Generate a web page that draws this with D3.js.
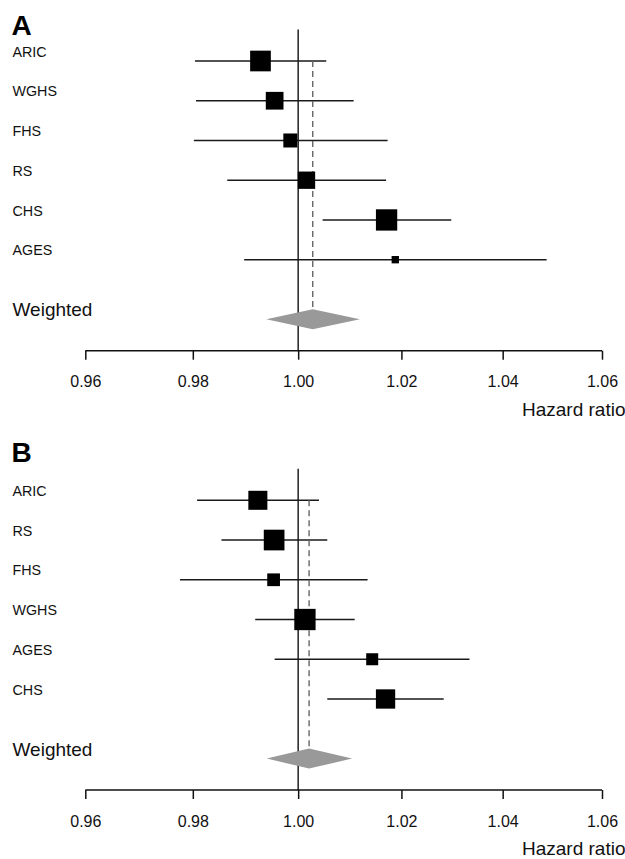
<!DOCTYPE html>
<html>
<head>
<meta charset="utf-8">
<script src="https://cdn.jsdelivr.net/npm/d3@7"></script>
<style>
  html, body { margin: 0; padding: 0; background: #fff; }
  svg { display: block; font-family: "Liberation Sans", Arial, Helvetica, sans-serif; }
</style>
</head>
<body>
<script>
// ---------- data ----------
const tickValues = [0.96, 0.98, 1.00, 1.02, 1.04, 1.06];
const axisTitle = "Hazard ratio";
const pooledLabel = "Weighted";

const panelLetters = ["A", "B"];

const studiesA = ["ARIC", "WGHS", "FHS", "RS", "CHS", "AGES"];
const hrA      = [0.9928, 0.9955, 0.9985, 1.0016, 1.0171, 1.0188];
const loA      = [0.9804, 0.9806, 0.9802, 0.9865, 1.0047, 0.9897];
const hiA      = [1.0054, 1.0107, 1.0173, 1.0170, 1.0298, 1.0488];
const weightA  = [21.4, 15.7, 9.8, 15.0, 22.7, 2.7];
const pooledA  = [1.0028, 0.9939, 1.0119]; // estimate, lower, upper

const studiesB = ["ARIC", "RS", "FHS", "WGHS", "AGES", "CHS"];
const hrB      = [0.9923, 0.9954, 0.9953, 1.0013, 1.0143, 1.0169];
const loB      = [0.9808, 0.9854, 0.9776, 0.9918, 0.9955, 1.0056];
const hiB      = [1.0040, 1.0056, 1.0134, 1.0109, 1.0334, 1.0283];
const weightB  = [18.1, 21.4, 8.1, 22.7, 7.2, 18.6];
const pooledB  = [1.0021, 0.9940, 1.0104];

// ---------- layout ----------
const W = 625, H = 859;
const svg = d3.select("body").append("svg").attr("width", W).attr("height", H);

const x = d3.scaleLog().domain([0.96, 1.06]).range([85.3, 602]);
const y = d3.scaleLinear().domain([0, 6.5]).range([61, 319.3]); // row index -> y (panel coords)
const boxSize = d3.scaleSqrt().domain([0, 25]).range([0, 22.36]);

const panels = [
  { letter: panelLetters[0], offset: 0,     letterY: 35,   studies: studiesA, hr: hrA, lo: loA, hi: hiA, w: weightA, pooled: pooledA },
  { letter: panelLetters[1], offset: 439.3, letterY: 22.4, studies: studiesB, hr: hrB, lo: loB, hi: hiB, w: weightB, pooled: pooledB }
];

const axisY = 350.7;
const refTop = 29.5;

panels.forEach(p => {
  const g = svg.append("g").attr("transform", `translate(0,${p.offset})`);

  g.append("text")
    .attr("x", 11.5).attr("y", p.letterY)
    .attr("font-size", 28).attr("font-weight", "bold").attr("fill", "#000")
    .text(p.letter);

  const rows = p.studies.map((s, i) => ({ s, hr: p.hr[i], lo: p.lo[i], hi: p.hi[i], w: p.w[i], i }));

  g.selectAll("text.lab").data(rows).join("text")
    .attr("class", "lab")
    .attr("x", 12.5).attr("y", d => y(d.i) - 4.3)
    .attr("font-size", 14.3).attr("fill", "#111")
    .text(d => d.s);

  const pooledRow = 6.5;
  g.append("text")
    .attr("x", 12.5).attr("y", y(pooledRow) - 3)
    .attr("font-size", 19).attr("fill", "#111")
    .text(pooledLabel);

  g.append("line")
    .attr("x1", x(1)).attr("x2", x(1))
    .attr("y1", refTop).attr("y2", axisY)
    .attr("stroke", "#111").attr("stroke-width", 1.4);

  g.selectAll("line.ci").data(rows).join("line")
    .attr("class", "ci")
    .attr("x1", d => x(d.lo)).attr("x2", d => x(d.hi))
    .attr("y1", d => y(d.i)).attr("y2", d => y(d.i))
    .attr("stroke", "#1a1a1a").attr("stroke-width", 1.6);

  const dHalf = 10;
  g.append("line")
    .attr("x1", x(p.pooled[0])).attr("x2", x(p.pooled[0]))
    .attr("y1", y(0)).attr("y2", y(pooledRow) - dHalf)
    .attr("stroke", "#666").attr("stroke-width", 1.4)
    .attr("stroke-dasharray", "6,4");

  g.selectAll("rect.box").data(rows).join("rect")
    .attr("class", "box")
    .attr("x", d => x(d.hr) - boxSize(d.w) / 2)
    .attr("y", d => y(d.i) - boxSize(d.w) / 2)
    .attr("width", d => boxSize(d.w))
    .attr("height", d => boxSize(d.w))
    .attr("fill", "#000");

  const cy = y(pooledRow);
  const pts = [
    [x(p.pooled[1]), cy],
    [x(p.pooled[0]), cy - dHalf],
    [x(p.pooled[2]), cy],
    [x(p.pooled[0]), cy + dHalf]
  ];
  g.append("polygon")
    .attr("points", pts.map(q => q.join(",")).join(" "))
    .attr("fill", "#999").attr("stroke", "none");

  const ax = g.append("g")
    .attr("transform", `translate(0,${axisY})`)
    .call(d3.axisBottom(x).tickValues(tickValues).tickFormat(d3.format(".2f"))
      .tickSize(9).tickPadding(16.3).tickSizeOuter(0));
  ax.select(".domain").attr("stroke", "#111").attr("stroke-width", 1.5)
    .attr("d", `M${x(0.96)},0H${x(1.06)}`);
  ax.selectAll(".tick line").attr("stroke", "#111").attr("stroke-width", 1.5);
  ax.selectAll(".tick text").attr("font-size", 16).attr("fill", "#111")
    .attr("font-family", "\"Liberation Sans\", Arial, sans-serif");

  g.append("text")
    .attr("x", 522).attr("y", 416)
    .attr("font-size", 19).attr("fill", "#111")
    .text(axisTitle);
});
</script>
</body>
</html>
